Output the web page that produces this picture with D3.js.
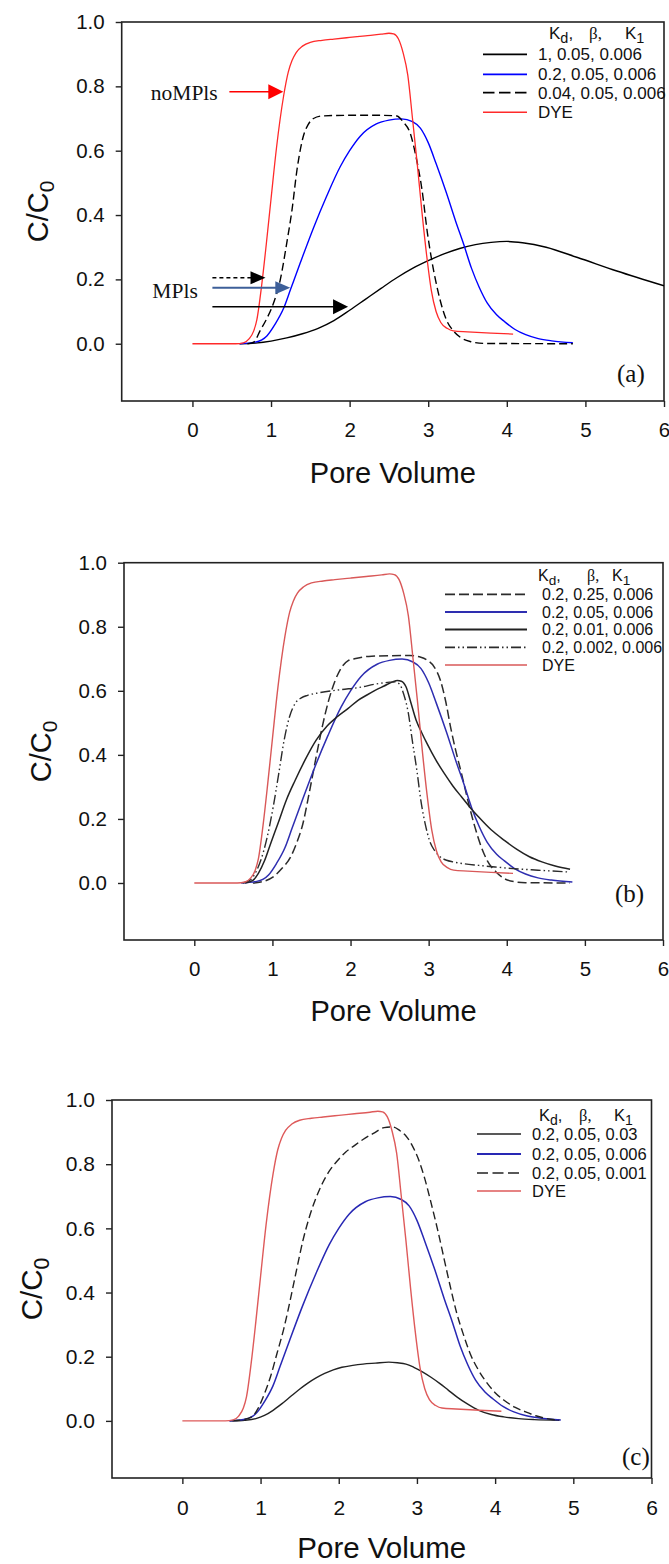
<!DOCTYPE html>
<html><head><meta charset="utf-8">
<script src="https://cdn.jsdelivr.net/npm/d3@7"></script>
<style>body{margin:0;background:#fff} svg{display:block}</style>
</head><body>
<svg id="chart" width="669" height="1564"></svg>
<script>
// ---------------- data ----------------
const xTicks = [0, 1, 2, 3, 4, 5, 6];
const yTicks = [0, 0.2, 0.4, 0.6, 0.8, 1.0];
const xTickLabels = ["0", "1", "2", "3", "4", "5", "6"];
const yTickLabels = ["0.0", "0.2", "0.4", "0.6", "0.8", "1.0"];
const xTitle = "Pore Volume";

// DYE tracer (same in all panels)
const dyeX = [0, 0.55, 0.65, 0.72, 0.78, 0.82, 0.88, 0.94, 1.0, 1.07, 1.16, 1.22, 1.267, 1.32, 1.4, 1.5, 1.65, 1.8, 2.0, 2.2, 2.4, 2.5, 2.56, 2.62, 2.68, 2.74, 2.8, 2.86, 2.92, 2.98, 3.04, 3.1, 3.16, 3.24, 3.32, 3.5, 3.8, 4.08];
const dyeY = [0, 0, 0.003, 0.015, 0.04, 0.075, 0.18, 0.31, 0.45, 0.61, 0.77, 0.845, 0.88, 0.905, 0.925, 0.937, 0.943, 0.947, 0.952, 0.957, 0.962, 0.965, 0.963, 0.948, 0.905, 0.835, 0.7, 0.56, 0.41, 0.275, 0.165, 0.1, 0.066, 0.048, 0.04, 0.037, 0.033, 0.03];

// Kd=0.2, beta=0.05, K1=0.006 (same in all panels)
const baseX = [0.6, 0.8, 0.95, 1.05, 1.16, 1.25, 1.37, 1.54, 1.71, 1.88, 2.0, 2.135, 2.34, 2.5, 2.66, 2.8, 2.9, 3.0, 3.1, 3.23, 3.35, 3.45, 3.55, 3.65, 3.75, 3.87, 3.97, 4.1, 4.24, 4.4, 4.57, 4.84];
const baseY = [0, 0.005, 0.025, 0.06, 0.11, 0.17, 0.25, 0.36, 0.46, 0.55, 0.6, 0.645, 0.683, 0.695, 0.699, 0.69, 0.67, 0.625, 0.56, 0.47, 0.38, 0.31, 0.235, 0.175, 0.127, 0.09, 0.069, 0.045, 0.028, 0.016, 0.009, 0.003];

// panel (a)
const kd1X = [0.6, 0.8, 1.0, 1.2, 1.4, 1.6, 1.8, 2.0, 2.2, 2.4, 2.6, 2.8, 3.0, 3.2, 3.4, 3.6, 3.8, 4.0, 4.2, 4.5, 4.9, 5.4, 6.0];
const kd1Y = [0, 0.002, 0.008, 0.018, 0.031, 0.048, 0.072, 0.104, 0.138, 0.172, 0.205, 0.234, 0.258, 0.279, 0.296, 0.308, 0.315, 0.318, 0.314, 0.3, 0.268, 0.226, 0.18];
const kd004X = [0.7, 0.78, 0.86, 0.95, 1.03, 1.118, 1.2, 1.267, 1.33, 1.41, 1.47, 1.54, 1.65, 2.0, 2.4, 2.6, 2.68, 2.77, 2.85, 2.92, 2.99, 3.1, 3.23, 3.32, 3.42, 3.55, 3.7, 4.84];
const kd004Y = [0, 0.005, 0.04, 0.08, 0.125, 0.199, 0.313, 0.416, 0.54, 0.644, 0.68, 0.70, 0.708, 0.71, 0.71, 0.708, 0.69, 0.655, 0.575, 0.48, 0.344, 0.19, 0.075, 0.04, 0.018, 0.006, 0.001, 0];

// panel (b)
const beta025X = [0.75, 0.85, 1.01, 1.12, 1.23, 1.31, 1.39, 1.47, 1.56, 1.64, 1.72, 1.8, 1.89, 1.97, 2.05, 2.27, 2.76, 2.9, 2.98, 3.07, 3.15, 3.22, 3.28, 3.35, 3.42, 3.5, 3.58, 3.67, 3.75, 3.86, 3.97, 4.1, 4.24, 4.81];
const beta025Y = [0, 0.003, 0.019, 0.045, 0.08, 0.125, 0.185, 0.28, 0.394, 0.49, 0.57, 0.63, 0.675, 0.694, 0.70, 0.708, 0.71, 0.705, 0.696, 0.675, 0.633, 0.565, 0.4875, 0.41, 0.342, 0.26, 0.185, 0.115, 0.07, 0.035, 0.0135, 0.004, 0.001, 0];
const beta001X = [0.65, 0.75, 0.82, 0.9, 0.98, 1.07, 1.18, 1.29, 1.42, 1.56, 1.7, 1.83, 1.97, 2.1, 2.21, 2.32, 2.43, 2.54, 2.6, 2.65, 2.71, 2.77, 2.84, 2.91, 2.98, 3.09, 3.2, 3.31, 3.42, 3.53, 3.64, 3.8, 3.97, 4.13, 4.29, 4.45, 4.62, 4.81];
const beta001Y = [0, 0.008, 0.03, 0.07, 0.125, 0.185, 0.26, 0.32, 0.385, 0.446, 0.49, 0.519, 0.545, 0.571, 0.587, 0.602, 0.615, 0.628, 0.632, 0.63, 0.6125, 0.565, 0.508, 0.47, 0.435, 0.385, 0.342, 0.303, 0.269, 0.236, 0.206, 0.166, 0.133, 0.105, 0.082, 0.066, 0.053, 0.043];
const beta0002X = [0.62, 0.72, 0.79, 0.85, 0.93, 1.01, 1.08, 1.15, 1.22, 1.29, 1.37, 1.45, 1.6, 1.89, 2.1, 2.32, 2.5, 2.57, 2.63, 2.68, 2.74, 2.79, 2.85, 2.9, 2.96, 3.01, 3.08, 3.15, 3.23, 3.31, 3.45, 3.64, 3.85, 4.08, 4.4, 4.81];
const beta0002Y = [0, 0.01, 0.035, 0.07, 0.14, 0.2375, 0.34, 0.446, 0.52, 0.56, 0.578, 0.586, 0.594, 0.604, 0.61, 0.621, 0.627, 0.628, 0.62, 0.59, 0.53, 0.446, 0.35, 0.258, 0.18, 0.133, 0.1, 0.081, 0.071, 0.066, 0.06, 0.055, 0.05, 0.045, 0.04, 0.034];

// panel (c)
const k003X = [0.61, 0.8, 0.94, 1.05, 1.16, 1.27, 1.38, 1.49, 1.6, 1.71, 1.82, 1.93, 2.04, 2.18, 2.31, 2.47, 2.64, 2.75, 2.86, 2.96, 3.07, 3.18, 3.29, 3.4, 3.51, 3.65, 3.79, 3.95, 4.11, 4.3, 4.5, 4.82];
const k003Y = [0, 0.002, 0.007, 0.017, 0.033, 0.053, 0.075, 0.097, 0.117, 0.134, 0.148, 0.159, 0.167, 0.173, 0.177, 0.18, 0.183, 0.181, 0.177, 0.167, 0.153, 0.136, 0.117, 0.096, 0.075, 0.052, 0.033, 0.02, 0.0125, 0.007, 0.004, 0.002];
const k0001X = [0.64, 0.78, 0.89, 0.97, 1.05, 1.13, 1.21, 1.3, 1.38, 1.46, 1.54, 1.63, 1.71, 1.79, 1.87, 1.98, 2.09, 2.2, 2.31, 2.45, 2.58, 2.69, 2.78, 2.86, 2.94, 3.02, 3.1, 3.18, 3.27, 3.35, 3.43, 3.51, 3.6, 3.68, 3.79, 3.9, 4.0, 4.11, 4.25, 4.39, 4.52, 4.66, 4.82];
const k0001Y = [0, 0.004, 0.0125, 0.04, 0.085, 0.14, 0.21, 0.29, 0.377, 0.47, 0.56, 0.64, 0.695, 0.74, 0.775, 0.81, 0.838, 0.858, 0.877, 0.897, 0.914, 0.916, 0.905, 0.888, 0.858, 0.815, 0.755, 0.68, 0.59, 0.502, 0.415, 0.335, 0.265, 0.21, 0.157, 0.117, 0.088, 0.065, 0.043, 0.028, 0.016, 0.007, 0.002];

// legend labels
const legendA = ["1, 0.05, 0.006", "0.2, 0.05, 0.006", "0.04, 0.05, 0.006", "DYE"];
const legendB = ["0.2, 0.25, 0.006", "0.2, 0.05, 0.006", "0.2, 0.01, 0.006", "0.2, 0.002, 0.006", "DYE"];
const legendC = ["0.2, 0.05, 0.03", "0.2, 0.05, 0.006", "0.2, 0.05, 0.001", "DYE"];
const panelLabels = ["(a)", "(b)", "(c)"];

// annotation arrows in panel (a) (data units)
const arrowLabels = ["noMPls", "MPls"];
const arrowY = [0.783, 0.205, 0.174, 0.115];
const arrowFrom = [0.47, 0.254, 0.254, 0.254];
const arrowTo = [1.156, 0.93, 1.245, 1.98];

// ---------------- layout / styles ----------------
const SANS = "'Liberation Sans', Arial, Helvetica, sans-serif";
const SERIF = "'Liberation Serif', 'Times New Roman', serif";
const toPts = (xs, ys) => xs.map((x, i) => [x, ys[i]]);

const panels = [
  { box: { l: 121.7, r: 664, t: 22, b: 401 }, tickFs: 20.5, titleFs: 29, ylabX: 38, xTitleY: 483,
    labelPos: [617, 382], labelFs: 25,
    legend: { lineX1: 483, lineX2: 527, textX: 538, rows: [54.3, 74.3, 92.7, 112.3], fs: 17,
              hdrY: 39, kdX: 549, betaX: 589, k1X: 625 },
    labels: legendA,
    series: [
      { d: toPts(kd1X, kd1Y), c: "#000", w: 1.4 },
      { d: toPts(baseX, baseY), c: "#0000ff", w: 1.4 },
      { d: toPts(kd004X, kd004Y), c: "#000", w: 1.4, dash: "8,4", ldash: "11.5,4.5" },
      { d: toPts(dyeX, dyeY), c: "#ff2a2a", w: 1.3 }
    ] },
  { box: { l: 124, r: 663, t: 562.7, b: 940 }, tickFs: 20.5, titleFs: 29, ylabX: 40.5, xTitleY: 1021,
    labelPos: [615, 902], labelFs: 25,
    legend: { lineX1: 445, lineX2: 527, textX: 542, rows: [594.3, 612, 629.5, 647.3, 665], fs: 16,
              hdrY: 580.7, kdX: 538, betaX: 587, k1X: 612 },
    labels: legendB,
    series: [
      { d: toPts(beta025X, beta025Y), c: "#2b2b2b", w: 1.5, dash: "9,4", ldash: "10,4" },
      { d: toPts(baseX, baseY), c: "#2e2eb0", w: 1.5 },
      { d: toPts(beta001X, beta001Y), c: "#222", w: 1.5 },
      { d: toPts(beta0002X, beta0002Y), c: "#2b2b2b", w: 1.4, dash: "10,3,1.5,3,1.5,3" },
      { d: toPts(dyeX, dyeY), c: "#d95858", w: 1.4 }
    ] },
  { box: { l: 112, r: 651.5, t: 1100, b: 1478 }, tickFs: 21, titleFs: 29.5, ylabX: 32, xTitleY: 1558,
    labelPos: [622, 1465], labelFs: 25,
    legend: { lineX1: 477, lineX2: 521, textX: 532, rows: [1134, 1154, 1173, 1191], fs: 16.5,
              hdrY: 1121, kdX: 539, betaX: 579, k1X: 614 },
    labels: legendC,
    series: [
      { d: toPts(k003X, k003Y), c: "#222", w: 1.4 },
      { d: toPts(baseX, baseY), c: "#2828b4", w: 1.5 },
      { d: toPts(k0001X, k0001Y), c: "#222", w: 1.4, dash: "8,4", ldash: "11,4.5" },
      { d: toPts(dyeX, dyeY), c: "#de5a5a", w: 1.4 }
    ] }
];

const svg = d3.select("#chart");
svg.append("rect").attr("width", 669).attr("height", 1564).attr("fill", "#fff");

panels.forEach((p, pi) => {
  const B = p.box;
  const x = d3.scaleLinear().domain([-0.9, 6]).range([B.l, B.r]);
  const y = d3.scaleLinear().domain([-0.178, 1]).range([B.b, B.t]);
  const g = svg.append("g");

  const clipId = "clip" + pi;
  g.append("clipPath").attr("id", clipId).append("rect")
    .attr("x", B.l).attr("y", B.t).attr("width", B.r - B.l).attr("height", B.b - B.t);

  // axes
  const xAxis = d3.axisBottom(x).tickValues(xTicks).tickSize(6).tickPadding(11)
    .tickFormat((d, i) => xTickLabels[i]);
  const gx = g.append("g").attr("transform", `translate(0,${B.b})`).call(xAxis);
  const yAxis = d3.axisLeft(y).tickValues(yTicks).tickSize(6).tickPadding(11)
    .tickFormat((d, i) => yTickLabels[i]);
  const gy = g.append("g").attr("transform", `translate(${B.l},0)`).call(yAxis);
  [gx, gy].forEach(a => {
    a.select(".domain").remove();
    a.selectAll(".tick line").attr("stroke", "#222").attr("stroke-width", 1.4);
    a.selectAll(".tick text").attr("fill", "#111").style("font-family", SANS).style("font-size", p.tickFs + "px");
  });
  gx.selectAll(".tick text").attr("dy", "0.95em");

  // frame
  g.append("rect").attr("x", B.l).attr("y", B.t).attr("width", B.r - B.l).attr("height", B.b - B.t)
    .attr("fill", "none").attr("stroke", "#222").attr("stroke-width", 1.6);

  // curves
  const line = d3.line().x(d => x(d[0])).y(d => y(d[1])).curve(d3.curveMonotoneX);
  const cg = g.append("g").attr("clip-path", `url(#${clipId})`);
  p.series.forEach(s => {
    cg.append("path").attr("d", line(s.d)).attr("fill", "none").attr("stroke", s.c)
      .attr("stroke-width", s.w).attr("stroke-dasharray", s.dash || null)
      .attr("stroke-linejoin", "round");
  });

  // axis titles
  g.append("text").attr("x", (B.l + B.r) / 2).attr("y", p.xTitleY).attr("text-anchor", "middle")
    .style("font-family", SANS).style("font-size", p.titleFs + "px").attr("fill", "#111").text(xTitle);
  const yl = g.append("text").attr("transform", `translate(${p.ylabX},${(B.t + B.b) / 2}) rotate(-90)`)
    .attr("text-anchor", "middle").attr("dy", "0.35em")
    .style("font-family", SANS).style("font-size", p.titleFs + "px").attr("fill", "#111");
  yl.append("tspan").text("C/C");
  yl.append("tspan").attr("dy", "0.3em").style("font-size", (p.titleFs * 0.72) + "px").text("0");

  // legend
  const L = p.legend;
  const hdr = g.append("g").style("font-family", SANS).style("font-size", L.fs + "px").attr("fill", "#111");
  const t1 = hdr.append("text").attr("x", L.kdX).attr("y", L.hdrY);
  t1.append("tspan").text("K");
  t1.append("tspan").attr("dy", 4).style("font-size", (L.fs * 0.85) + "px").text("d");
  t1.append("tspan").attr("dy", -4).text(",");
  hdr.append("text").attr("x", L.betaX).attr("y", L.hdrY).style("font-family", SERIF).text("β,");
  const t3 = hdr.append("text").attr("x", L.k1X).attr("y", L.hdrY);
  t3.append("tspan").text("K");
  t3.append("tspan").attr("dy", 4).style("font-size", (L.fs * 0.85) + "px").text("1");

  p.series.forEach((s, i) => {
    const yy = L.rows[i];
    g.append("line").attr("x1", L.lineX1).attr("x2", L.lineX2).attr("y1", yy).attr("y2", yy)
      .attr("stroke", s.c).attr("stroke-width", s.w + 0.3).attr("stroke-dasharray", s.ldash || s.dash || null);
    g.append("text").attr("x", L.textX).attr("y", yy).attr("dy", "0.36em")
      .style("font-family", SANS).style("font-size", L.fs + "px").attr("fill", "#111").text(p.labels[i]);
  });

  // panel label
  g.append("text").attr("x", p.labelPos[0]).attr("y", p.labelPos[1])
    .style("font-family", SERIF).style("font-size", p.labelFs + "px").attr("fill", "#111").text(panelLabels[pi]);

  // annotations for panel (a)
  if (pi === 0) {
    const ann = g.append("g");
    ann.append("text").attr("x", x(-0.53)).attr("y", y(0.758))
      .style("font-family", SERIF).style("font-size", "21.5px").attr("fill", "#111").text(arrowLabels[0]);
    ann.append("text").attr("x", x(-0.51)).attr("y", y(0.143))
      .style("font-family", SERIF).style("font-size", "21.5px").attr("fill", "#111").text(arrowLabels[1]);
    const arrowStyle = [
      { c: "#ff0000", dash: null, hl: 15, hh: 7.5, w: 1.6 },
      { c: "#000", dash: "4,3", hl: 15, hh: 6.5, w: 1.4 },
      { c: "#3d5f99", dash: null, hl: 15, hh: 6.5, w: 1.8 },
      { c: "#000", dash: null, hl: 15, hh: 7.5, w: 1.4 }
    ];
    arrowY.forEach((av, i) => {
      const st = arrowStyle[i];
      const yy = y(av), x0 = x(arrowFrom[i]), x1 = x(arrowTo[i]);
      ann.append("line").attr("x1", x0).attr("x2", x1 - st.hl + 1).attr("y1", yy).attr("y2", yy)
        .attr("stroke", st.c).attr("stroke-width", st.w).attr("stroke-dasharray", st.dash);
      ann.append("path").attr("d", `M${x1 - st.hl},${yy - st.hh}L${x1},${yy}L${x1 - st.hl},${yy + st.hh}Z`)
        .attr("fill", st.c);
    });
  }
});
</script>
</body></html>
